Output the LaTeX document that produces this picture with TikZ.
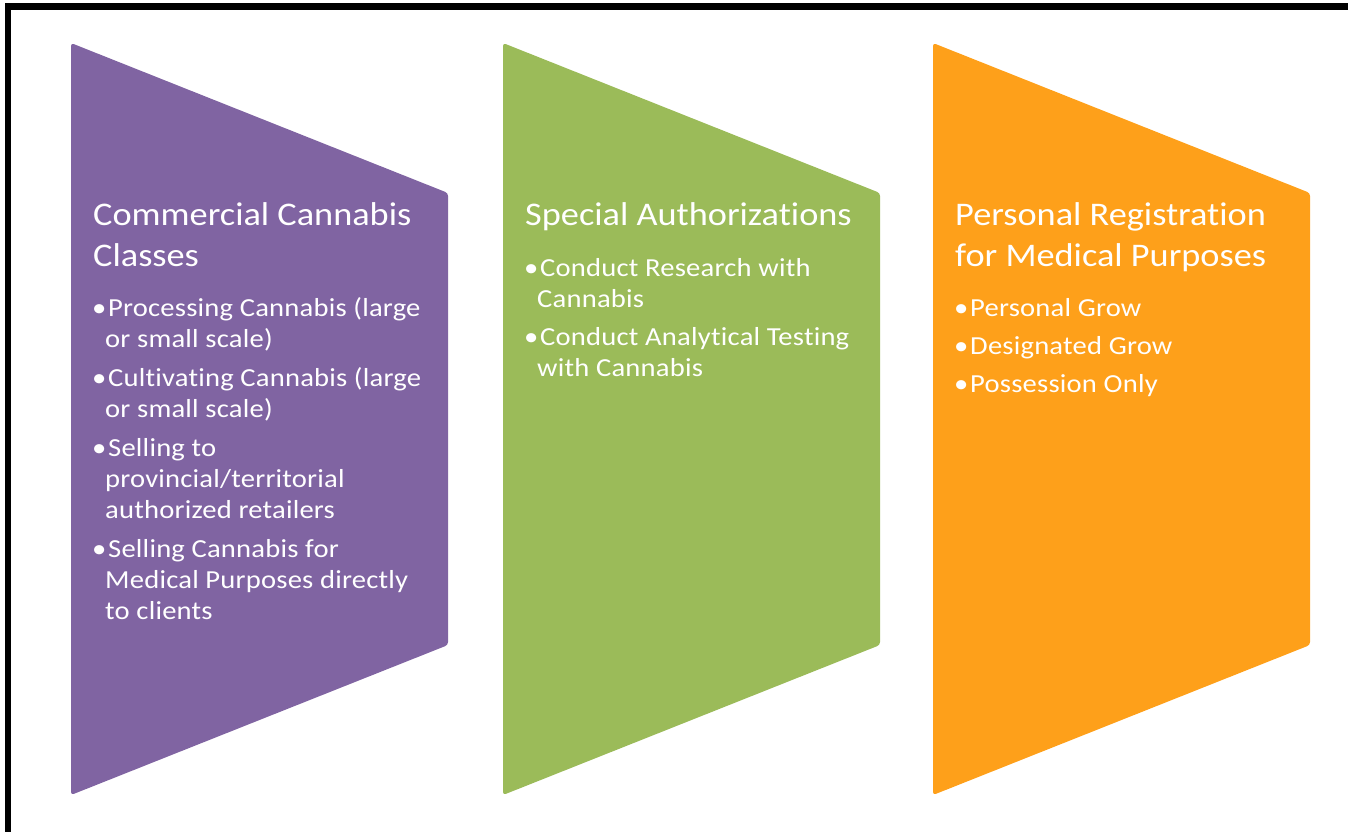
\documentclass[tikz,border=0pt]{standalone}
\usepackage{fontspec}
\setmainfont{Carlito}[FakeStretch=1.1, Ligatures=NoCommon]
\newfontfamily\entryfont{Carlito}[FakeStretch=1.1, LetterSpace=0.8, Ligatures=NoCommon]
\newcommand{\stackedtext}[1]{\begin{tabular}[t]{@{}l@{}}#1\end{tabular}}
\definecolor{panelpurple}{RGB}{128,100,162}
\definecolor{panelgreen}{RGB}{155,187,89}
\definecolor{panelorange}{RGB}{254,160,26}
\begin{document}
\begin{tikzpicture}[x=1pt,y=-1pt,
  panel/.style={rounded corners=3pt},
  heading/.style={anchor=base west, inner sep=0pt, text=white,
    font=\fontsize{33}{41}\selectfont},
  entry/.style={anchor=base west, inner sep=0pt, text=white,
    font=\entryfont\fontsize{26}{31}\selectfont},
  bullet/.style={anchor=base west, inner sep=0pt, text=white,
    font=\fontsize{26}{31}\selectfont}]
\useasboundingbox (0,0) rectangle (1348,831);

% outer frame (runs past the right and lower edges)
\coordinate (fbl) at (8,840);
\coordinate (ftl) at (8,6.3);
\coordinate (ftr) at (1360,6.3);
\draw[line width=6.5pt] (fbl) -- (ftl) -- (ftr);

% three chevron-like panels
\fill[panel, panelpurple] (71,43) -- (448,193) -- (448,645) -- (71,795) -- cycle;
\fill[panel, panelgreen]  (503,43) -- (880,193) -- (880,645) -- (503,795) -- cycle;
\fill[panel, panelorange] (933,43) -- (1310,193) -- (1310,645) -- (933,795) -- cycle;

% panel 1
\node[heading] (t1) at (93,225) {\stackedtext{Commercial Cannabis\\Classes}};
\node[bullet] (b11) at (92,316) {•};
\node[entry] (e11) at (105,316) {\stackedtext{\hspace*{3pt}Processing Cannabis (large\\or small scale)}};
\node[bullet] (b12) at (92,386) {•};
\node[entry] (e12) at (105,386) {\stackedtext{\hspace*{3pt}Cultivating Cannabis (large\\or small scale)}};
\node[bullet] (b13) at (92,456) {•};
\node[entry] (e13) at (105,456) {\stackedtext{\hspace*{3pt}Selling to\\provincial/territorial\\authorized retailers}};
\node[bullet] (b14) at (92,557) {•};
\node[entry] (e14) at (105,557) {\stackedtext{\hspace*{3pt}Selling Cannabis for\\Medical Purposes directly\\to clients}};

% panel 2
\node[heading] (t2) at (525,225) {Special Authorizations};
\node[bullet] (b21) at (524,276) {•};
\node[entry] (e21) at (537,276) {\stackedtext{\hspace*{3pt}Conduct Research with\\Cannabis}};
\node[bullet] (b22) at (524,345) {•};
\node[entry] (e22) at (537,345) {\stackedtext{\hspace*{3pt}Conduct Analytical Testing\\with Cannabis}};

% panel 3
\node[heading] (t3) at (955,225) {\stackedtext{Personal Registration\\for Medical Purposes}};
\node[bullet] (b31) at (954,316) {•};
\node[entry] (e31) at (967,316) {\hspace*{3pt}Personal Grow};
\node[bullet] (b32) at (954,354) {•};
\node[entry] (e32) at (967,354) {\hspace*{3pt}Designated Grow};
\node[bullet] (b33) at (954,392) {•};
\node[entry] (e33) at (967,392) {\hspace*{3pt}Possession Only};
\end{tikzpicture}
\end{document}
